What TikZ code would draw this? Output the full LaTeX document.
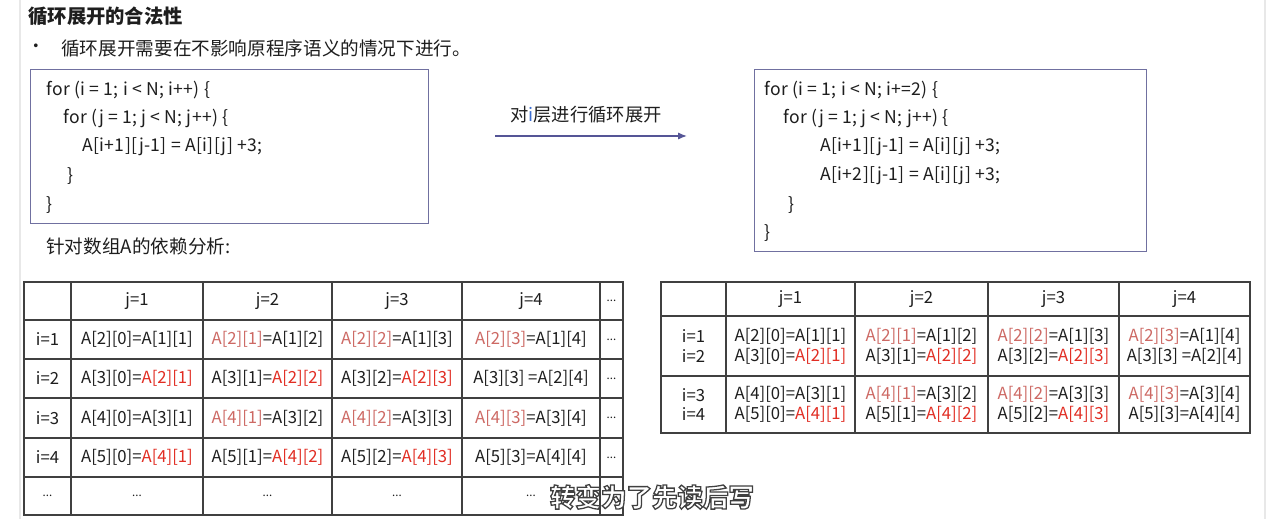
\documentclass[tikz,border=0pt]{standalone}
\usepackage{fontspec}
\setmainfont{Noto Sans CJK SC}
\newfontfamily\capfont{Noto Sans CJK SC}[FakeBold=5]
\usepackage{xcolor}
\usepackage{tikz}
\usetikzlibrary{arrows.meta}

\definecolor{boxline}{RGB}{112,112,160}
\definecolor{arrowc}{RGB}{85,85,150}
\definecolor{ilabel}{RGB}{60,110,210}
\definecolor{writec}{RGB}{205,105,100}
\definecolor{readc}{RGB}{225,45,35}
\definecolor{textc}{RGB}{30,30,30}
\definecolor{sidebar}{RGB}{232,232,232}

\newcommand{\wtext}[1]{\textcolor{writec}{#1}}
\newcommand{\rtext}[1]{\textcolor{readc}{#1}}

\begin{document}
\begin{tikzpicture}[x=0.02cm,y=-0.02cm,every node/.style={text=textc}]
	\tikzstyle{code}=[anchor=west, inner sep=0pt, font=\fontsize{10}{12}\selectfont\addfontfeature{LetterSpace=2}]
	\tikzstyle{codebox}=[draw=boxline, line width=0.8pt, anchor=north west, inner sep=0pt]
	\tikzstyle{grid}=[draw=textc!85, line width=0.7pt]
	\tikzstyle{cell}=[inner sep=0pt, font=\fontsize{9.5}{11}\selectfont]
	\tikzstyle{cell2}=[cell, align=center, font=\fontsize{9.5}{11.3}\selectfont]
	\tikzstyle{dots}=[inner sep=0pt, font=\fontsize{6.5}{7}\selectfont]
	\tikzset{edge/.style = {-{Latex[length=5pt,width=4pt]}, draw=arrowc, line width=0.8pt}}
	
	\useasboundingbox[fill=white] (0,0) rectangle (1280,519);
	\draw[sidebar, line width=1pt] (20,0) -- (20,519);
	\draw[sidebar, line width=1pt] (1265,0) -- (1265,519);
	
	% heading
	\node[anchor=west, inner sep=0pt, font=\bfseries\fontsize{11}{13}\selectfont](title) at (28,16) {循环展开的合法性};
	\node[inner sep=0pt](dot) at (36,48) {•};
	\node[anchor=west, inner sep=0pt, font=\fontsize{10.6}{12}\selectfont](rule) at (61,48) {循环展开需要在不影响原程序语义的情况下进行。};
	
	% original loop
	\node[codebox, minimum width=7.96cm, minimum height=3.08cm](codeL) at (30,69) {};
	\node[code](cL1) at (46,90)  {for (i = 1; i < N; i++) \{};
	\node[code](cL2) at (63,118) {for (j = 1; j < N; j++) \{};
	\node[code](cL3) at (82,147) {A[i+1][j-1] = A[i][j] +3;};
	\node[code](cL4) at (67,176) {\}};
	\node[code](cL5) at (46,205) {\}};
	\node[anchor=west, inner sep=0pt, font=\fontsize{10.6}{12}\selectfont](dep) at (46,246) {针对数组A的依赖分析:};
	
	% unrolling arrow
	\coordinate (arrS) at (495,136);
	\coordinate (arrE) at (687,136);
	\draw[edge](arrS) to (arrE);
	\node[inner sep=0pt, font=\fontsize{10.4}{12}\selectfont](how) at (586,115) {对\textcolor{ilabel}{i}层进行循环展开};
	
	% unrolled loop
	\node[codebox, minimum width=7.84cm, minimum height=3.64cm](codeR) at (754,69) {};
	\node[code](cR1) at (764,90)  {for (i = 1; i < N; i+=2) \{};
	\node[code](cR2) at (783,118) {for (j = 1; j < N; j++) \{};
	\node[code](cR3) at (820,147) {A[i+1][j-1] = A[i][j] +3;};
	\node[code](cR4) at (820,176) {A[i+2][j-1] = A[i][j] +3;};
	\node[code](cR5) at (788,205) {\}};
	\node[code](cR6) at (764,233) {\}};
	
	% left table
	\draw[grid] (24,282) rectangle (623,515);
	\foreach \x in {71,203,332,462,600} \draw[grid] (\x,282) -- (\x,515);
	\foreach \y in {320,359,398,438,477} \draw[grid] (24,\y) -- (623,\y);
	
	\node[cell](Lh1) at (137,301)   {j=1};
	\node[cell](Lh2) at (267.5,301) {j=2};
	\node[cell](Lh3) at (397,301)   {j=3};
	\node[cell](Lh4) at (531,301)   {j=4};
	\node[dots](Lh5) at (611.5,301) {...};
	
	\node[cell](L10) at (47.5,339.5)  {i=1};
	\node[cell](L11) at (137,339.5)   {A[2][0]=A[1][1]};
	\node[cell](L12) at (267.5,339.5) {\wtext{A[2][1]}=A[1][2]};
	\node[cell](L13) at (397,339.5)   {\wtext{A[2][2]}=A[1][3]};
	\node[cell](L14) at (531,339.5)   {\wtext{A[2][3]}=A[1][4]};
	\node[dots](L15) at (611.5,339.5) {...};
	
	\node[cell](L20) at (47.5,378.5)  {i=2};
	\node[cell](L21) at (137,378.5)   {A[3][0]=\rtext{A[2][1]}};
	\node[cell](L22) at (267.5,378.5) {A[3][1]=\rtext{A[2][2]}};
	\node[cell](L23) at (397,378.5)   {A[3][2]=\rtext{A[2][3]}};
	\node[cell](L24) at (531,378.5)   {A[3][3] =A[2][4]};
	\node[dots](L25) at (611.5,378.5) {...};
	
	\node[cell](L30) at (47.5,418)  {i=3};
	\node[cell](L31) at (137,418)   {A[4][0]=A[3][1]};
	\node[cell](L32) at (267.5,418) {\wtext{A[4][1]}=A[3][2]};
	\node[cell](L33) at (397,418)   {\wtext{A[4][2]}=A[3][3]};
	\node[cell](L34) at (531,418)   {\wtext{A[4][3]}=A[3][4]};
	\node[dots](L35) at (611.5,418) {...};
	
	\node[cell](L40) at (47.5,457.5)  {i=4};
	\node[cell](L41) at (137,457.5)   {A[5][0]=\rtext{A[4][1]}};
	\node[cell](L42) at (267.5,457.5) {A[5][1]=\rtext{A[4][2]}};
	\node[cell](L43) at (397,457.5)   {A[5][2]=\rtext{A[4][3]}};
	\node[cell](L44) at (531,457.5)   {A[5][3]=A[4][4]};
	\node[dots](L45) at (611.5,457.5) {...};
	
	\node[dots](L50) at (47.5,496)  {...};
	\node[dots](L51) at (137,496)   {...};
	\node[dots](L52) at (267.5,496) {...};
	\node[dots](L53) at (397,496)   {...};
	\node[dots](L54) at (531,496)   {...};
	
	% right table
	\draw[grid] (661,282) rectangle (1250,433);
	\foreach \x in {726,855,988,1119} \draw[grid] (\x,282) -- (\x,433);
	\foreach \y in {316,376} \draw[grid] (661,\y) -- (1250,\y);
	
	\node[cell](Rh1) at (790.5,299)  {j=1};
	\node[cell](Rh2) at (921.5,299)  {j=2};
	\node[cell](Rh3) at (1053.5,299) {j=3};
	\node[cell](Rh4) at (1184.5,299) {j=4};
	
	\node[cell2](R10) at (693.5,346)  {i=1\\i=2};
	\node[cell2](R11) at (790.5,346)  {A[2][0]=A[1][1]\\A[3][0]=\rtext{A[2][1]}};
	\node[cell2](R12) at (921.5,346)  {\wtext{A[2][1]}=A[1][2]\\A[3][1]=\rtext{A[2][2]}};
	\node[cell2](R13) at (1053.5,346) {\wtext{A[2][2]}=A[1][3]\\A[3][2]=\rtext{A[2][3]}};
	\node[cell2](R14) at (1184.5,346) {\wtext{A[2][3]}=A[1][4]\\A[3][3] =A[2][4]};
	
	\node[cell2](R20) at (693.5,404.5)  {i=3\\i=4};
	\node[cell2](R21) at (790.5,404.5)  {A[4][0]=A[3][1]\\A[5][0]=\rtext{A[4][1]}};
	\node[cell2](R22) at (921.5,404.5)  {\wtext{A[4][1]}=A[3][2]\\A[5][1]=\rtext{A[4][2]}};
	\node[cell2](R23) at (1053.5,404.5) {\wtext{A[4][2]}=A[3][3]\\A[5][2]=\rtext{A[4][3]}};
	\node[cell2](R24) at (1184.5,404.5) {\wtext{A[4][3]}=A[3][4]\\A[5][3]=A[4][4]};
	
	% subtitle
	\node[inner sep=0pt, font=\capfont\bfseries\fontsize{14.5}{16}\selectfont](caption) at (652,497) {\special{pdf:bcolor [1] [0.25]}转变为了先读后写\special{pdf:ecolor}};
\end{tikzpicture}
\end{document}
